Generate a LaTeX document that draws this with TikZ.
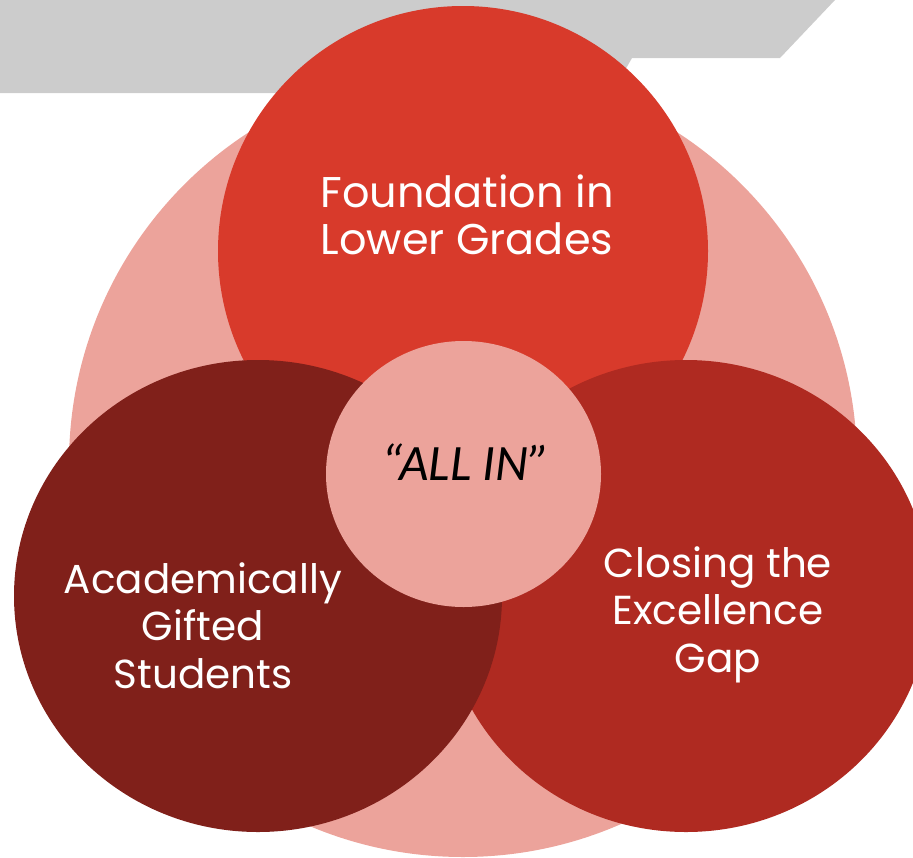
\documentclass[tikz,border=0pt]{standalone}
\usepackage{fontspec}
\usetikzlibrary{shapes.geometric}
\newfontfamily\lblfont{Poppins}
\newfontfamily\allinfont{Carlito}
\definecolor{bannergray}{HTML}{CCCCCC}
\definecolor{softpink}{HTML}{ECA39B}
\definecolor{topred}{HTML}{D83A2B}
\definecolor{darkred}{HTML}{80201A}
\definecolor{midred}{HTML}{AF2A21}
\tikzset{
  blob/.style={ellipse, draw=none, inner sep=0pt},
  lbl/.style={text=white, align=center, anchor=base, inner sep=0pt,
    font=\lblfont\fontsize{40.5}{47.5}\selectfont},
}
\begin{document}
\begin{tikzpicture}[x=1pt,y=-1pt]
\useasboundingbox (0,0) rectangle (913,857);
\fill[bannergray] (0,0) -- (835,0) -- (780,58) -- (632,58) -- (612,93) -- (0,93) -- cycle;
\node[blob, fill=softpink, minimum width=788pt, minimum height=788pt] (outer) at (463,463) {};
\node[blob, fill=topred, minimum width=490pt, minimum height=490pt] (foundation) at (463,251) {};
\node[blob, fill=midred, minimum width=488pt, minimum height=472pt] (closing) at (686,596) {};
\node[blob, fill=darkred, minimum width=488pt, minimum height=472pt] (gifted) at (258,596) {};
\node[blob, fill=softpink, minimum width=275pt, minimum height=266pt] (allin) at (463.5,474) {};
\node[lbl, font=\lblfont\fontsize{43}{47}\selectfont] (foundationtext) at (467,254) {Foundation in\\Lower Grades};
\node[lbl] (giftedtext) at (203,688) {Academically\\Gifted\\Students};
\node[lbl] (closingtext) at (718,672) {Closing the\\Excellence\\Gap};
\node[anchor=base, inner sep=0pt, font=\allinfont\itshape\fontsize{51}{60}\selectfont] (allintext) at (466,480) {“ALL IN”};
\end{tikzpicture}
\end{document}
